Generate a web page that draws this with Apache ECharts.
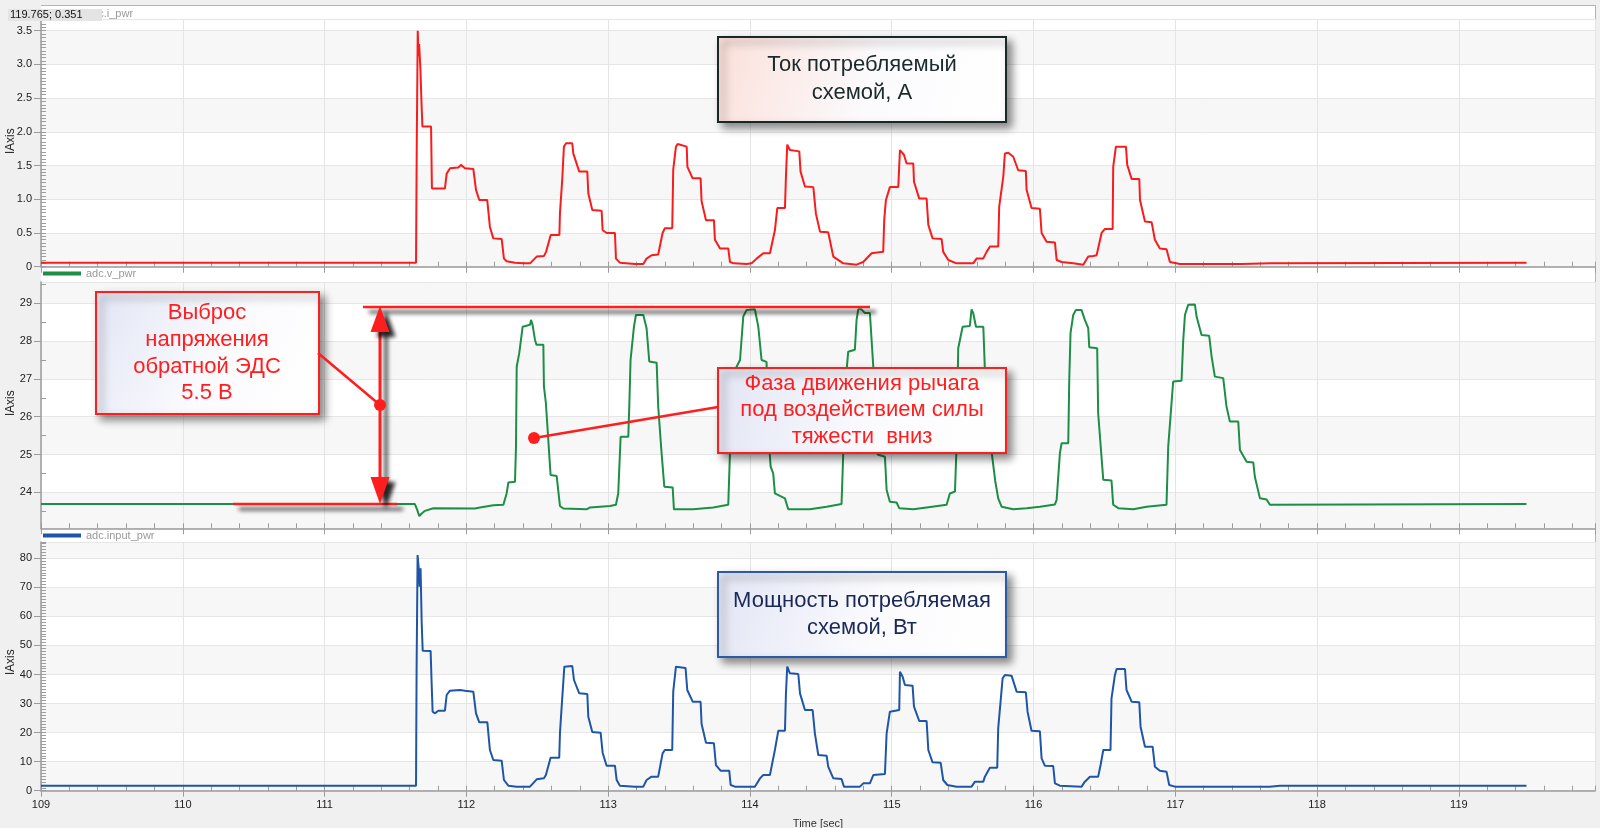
<!DOCTYPE html>
<html><head><meta charset="utf-8">
<script src="https://cdn.jsdelivr.net/npm/echarts@6.0.0/dist/echarts.min.js"></script>
<style>
html,body{margin:0;padding:0;background:#f0f0f0;}
#wrap{position:relative;width:1600px;height:828px;overflow:hidden;background:#f0f0f0;}
#plotbg{position:absolute;left:41px;top:5px;width:1555px;height:786px;background:#fff;border-top:1px solid #b4b4b4;border-right:1px solid #b4b4b4;box-sizing:border-box;}
#chart{position:absolute;left:0;top:0;width:1600px;height:828px;}
</style></head><body>
<div id="wrap"><div id="plotbg"></div><div id="chart"></div></div>
<script>
// ---- data (time in seconds) ----
const xTickLabels = [109,110,111,112,113,114,115,116,117,118,119];
const seriesNames = ['adc.i_pwr','adc.v_pwr','adc.input_pwr'];

// current, A
const iT = [109,111.645,111.65,111.657,111.663,111.667,111.676,111.684,111.69,111.751,
111.757,111.767,111.802,111.849,111.861,111.885,111.943,111.962,111.99,112.049,
112.068,112.091,112.147,112.166,112.19,112.249,112.265,112.284,112.343,112.402,
112.449,112.496,112.548,112.562,112.595,112.656,112.66,112.676,112.688,112.703,
112.747,112.754,112.796,112.853,112.86,112.888,112.954,112.961,112.99,113.048,
113.055,113.083,113.189,113.248,113.271,113.306,113.353,113.384,113.4,113.452,
113.459,113.478,113.49,113.554,113.559,113.596,113.652,113.659,113.69,113.746,
113.753,113.789,113.847,113.859,113.887,113.977,114.012,114.047,114.094,114.141,
114.176,114.193,114.247,114.254,114.263,114.282,114.348,114.357,114.388,114.447,
114.465,114.494,114.552,114.588,114.658,114.752,114.799,114.858,114.94,114.947,
114.959,114.987,115.046,115.058,115.086,115.105,115.152,115.157,115.194,115.246,
115.258,115.288,115.352,115.363,115.399,115.457,115.575,115.598,115.645,115.669,
115.693,115.751,115.758,115.787,115.798,115.822,115.857,115.892,115.946,115.951,
115.986,116.045,116.057,116.092,116.151,116.163,116.198,116.28,116.351,116.386,
116.421,116.445,116.48,116.504,116.558,116.562,116.581,116.652,116.661,116.692,
116.746,116.751,116.786,116.833,116.856,116.891,116.938,116.962,117.033,117.467,
117.477,117.67,117.68,119.477];
const iV = [0.06,0.06,1.78,3.50,3.12,3.30,2.92,2.40,2.08,2.08,
1.16,1.14,1.16,1.16,1.38,1.46,1.47,1.51,1.46,1.45,
1.14,0.99,0.99,0.59,0.42,0.41,0.12,0.08,0.06,0.05,
0.05,0.15,0.16,0.22,0.47,0.47,0.79,1.29,1.78,1.83,
1.83,1.68,1.41,1.41,1.09,0.84,0.83,0.54,0.50,0.50,
0.12,0.06,0.04,0.04,0.12,0.17,0.18,0.50,0.57,0.57,
1.44,1.78,1.82,1.78,1.48,1.31,1.31,0.97,0.69,0.69,
0.40,0.27,0.27,0.07,0.05,0.04,0.05,0.12,0.20,0.20,
0.54,0.87,0.87,1.34,1.81,1.73,1.71,1.41,1.19,1.18,
0.79,0.52,0.51,0.15,0.05,0.03,0.07,0.20,0.22,0.69,
0.99,1.18,1.18,1.73,1.66,1.53,1.53,1.26,1.01,1.01,
0.62,0.42,0.41,0.22,0.10,0.05,0.05,0.12,0.12,0.22,
0.30,0.30,0.89,1.34,1.68,1.69,1.63,1.43,1.42,1.14,
0.87,0.86,0.50,0.37,0.36,0.10,0.07,0.05,0.03,0.15,
0.16,0.17,0.50,0.56,0.56,1.48,1.78,1.78,1.51,1.30,
1.30,0.99,0.67,0.66,0.40,0.27,0.26,0.07,0.04,0.04,
0.05,0.05,0.06,0.06];

// voltage, V
const vT = [109,111.637,111.654,111.668,111.685,111.708,111.767,112.061,112.096,112.19,
112.261,112.284,112.296,112.343,112.35,112.355,112.373,112.397,112.449,112.456,
112.467,112.484,112.495,112.543,112.547,112.561,112.594,112.637,112.66,112.684,
112.848,112.872,113.013,113.055,113.071,113.088,113.142,113.149,113.158,113.182,
113.196,113.248,113.271,113.29,113.342,113.353,113.377,113.396,113.455,113.464,
113.6,113.741,113.847,113.859,113.871,113.93,113.953,113.976,114.035,114.059,
114.082,114.117,114.129,114.146,114.164,114.176,114.247,114.27,114.423,114.541,
114.646,114.658,114.682,114.693,114.74,114.752,114.764,114.787,114.811,114.846,
114.858,114.87,114.885,114.9,114.952,114.964,114.987,115.034,115.053,115.152,
115.246,115.387,115.41,115.446,115.457,115.469,115.5,115.551,115.563,115.575,
115.594,115.646,115.657,115.69,115.73,115.751,115.775,115.857,115.951,116.045,
116.151,116.163,116.186,116.198,116.245,116.252,116.261,116.28,116.299,116.339,
116.362,116.386,116.393,116.449,116.456,116.492,116.55,116.562,116.598,116.703,
116.797,116.938,116.95,116.985,117.044,117.056,117.068,117.091,117.138,117.15,
117.185,117.239,117.256,117.279,117.338,117.361,117.385,117.444,117.456,117.503,
117.55,117.561,117.597,117.644,117.667,119.477];
const vV = [23.69,23.69,23.53,23.37,23.44,23.51,23.58,23.57,23.60,23.66,
23.67,23.97,24.26,24.28,25.21,27.32,27.68,28.38,28.43,28.56,
28.43,28.03,27.90,27.90,26.80,26.35,24.46,24.43,23.64,23.57,
23.55,23.60,23.64,23.67,23.97,25.47,25.47,26.27,27.50,28.38,
28.69,28.69,28.34,27.46,27.43,26.27,25.03,24.15,24.13,23.55,
23.55,23.60,23.67,25.03,27.06,27.50,28.65,28.82,28.84,28.38,
27.50,27.45,25.60,24.68,24.50,23.97,23.84,23.55,23.55,23.62,
23.69,25.03,27.24,27.72,27.77,28.56,28.84,28.84,28.74,28.74,
28.03,27.32,26.00,25.00,24.94,24.06,23.75,23.73,23.58,23.55,
23.60,23.67,23.97,24.02,25.21,27.81,28.38,28.40,28.84,28.74,
28.38,28.38,27.24,25.50,24.30,23.84,23.62,23.55,23.58,23.62,
23.68,23.80,25.03,25.30,25.30,26.97,28.21,28.69,28.82,28.82,
28.56,28.34,27.84,27.81,26.09,24.33,24.31,23.67,23.58,23.55,
23.62,23.67,25.21,26.93,26.95,28.03,28.69,28.96,28.97,28.65,
28.16,28.14,27.59,27.06,27.02,26.27,25.87,25.87,25.12,24.81,
24.79,24.41,23.84,23.81,23.67,23.69];

// power, W
const pT = [109,111.645,111.649,111.656,111.663,111.67,111.677,111.685,111.692,111.748,
111.755,111.762,111.779,111.802,111.849,111.861,111.884,111.955,111.967,111.99,
112.049,112.068,112.091,112.148,112.166,112.19,112.249,112.265,112.296,112.354,
112.449,112.496,112.547,112.561,112.594,112.655,112.66,112.676,112.691,112.702,
112.747,112.759,112.796,112.853,112.86,112.888,112.947,112.961,112.989,113.048,
113.06,113.083,113.189,113.248,113.271,113.306,113.353,113.384,113.4,113.452,
113.459,113.478,113.49,113.546,113.558,113.596,113.652,113.659,113.69,113.746,
113.76,113.793,113.854,113.864,113.894,114.035,114.071,114.094,114.141,114.176,
114.2,114.247,114.254,114.263,114.282,114.341,114.353,114.388,114.442,114.458,
114.482,114.541,114.552,114.588,114.646,114.663,114.776,114.799,114.846,114.87,
114.952,114.964,114.987,115.053,115.058,115.077,115.093,115.147,115.157,115.194,
115.246,115.258,115.288,115.345,115.363,115.392,115.457,115.563,115.587,115.646,
115.657,115.692,115.744,115.751,115.782,115.798,115.845,115.881,115.946,115.958,
115.986,116.045,116.057,116.08,116.139,116.151,116.186,116.339,116.362,116.398,
116.456,116.473,116.492,116.543,116.55,116.574,116.586,116.645,116.656,116.692,
116.746,116.755,116.786,116.84,116.856,116.891,116.938,116.957,116.997,117.667,
117.737,119.477];
const pV = [1.73,1.73,41.55,81.13,77.12,70.23,76.54,57.61,48.20,48.09,
36.96,27.20,26.63,27.55,27.55,32.94,34.43,34.66,35.23,34.43,
34.09,26.63,23.53,23.53,14.01,10.56,10.33,3.68,1.73,1.39,
1.39,3.91,4.25,5.40,11.37,11.37,19.74,31.79,42.69,42.92,
42.92,38.10,33.51,33.28,25.48,20.20,19.97,13.09,8.61,8.61,
3.68,1.73,1.39,1.39,3.68,4.83,4.83,12.86,14.01,14.01,
34.09,42.69,42.23,42.23,34.66,30.64,30.64,22.96,16.53,16.30,
8.84,6.89,6.89,1.96,1.39,1.39,4.25,5.40,5.40,14.01,
20.66,20.66,33.51,42.69,40.40,40.17,33.51,27.78,27.78,19.74,
12.29,12.06,8.27,4.25,4.02,1.39,1.39,2.53,2.53,5.40,
5.74,19.74,27.20,27.78,40.97,39.25,36.38,36.15,28.92,23.99,
23.99,14.01,9.76,9.65,3.68,1.96,1.39,1.39,3.11,3.11,
4.83,7.93,7.93,21.47,38.68,39.82,39.59,34.09,33.86,27.20,
20.66,20.43,11.14,8.61,8.50,2.53,1.73,1.39,3.11,4.83,
4.83,8.84,14.01,14.01,31.79,39.82,41.89,41.89,34.66,30.64,
30.41,22.04,15.15,15.15,8.27,6.89,6.55,1.96,1.39,1.39,
1.73,1.73];

// ---- chart ----
const FONT = '"Liberation Sans", Arial, sans-serif';
const AX = '#9c9c9c';
const RED = '#f81c1c', GREEN = '#1c8e45', BLUE = '#1f55a6';
const zip = (a, b) => a.map((t, k) => [t, b[k]]);
const tMin = 109, tMax = 119.96;

const grids = [
  {left: 41, right: 5, top: 19, bottom: 561.3},
  {left: 41, right: 5, top: 282, bottom: 299.7},
  {left: 41, right: 5, top: 542, bottom: 37.3}
].map(g => Object.assign(g, {containLabel: false, outerBoundsMode: 'none'}));

function mainX(gi, labels) {
  return {
    type: 'value', gridIndex: gi, position: 'bottom', min: tMin, max: tMax, interval: 1,
    axisLine: {show: true, onZero: false, lineStyle: {color: AX, width: 1.5}},
    axisTick: {show: true, inside: false, length: 6, lineStyle: {color: AX}},
    axisLabel: {show: labels, color: '#222', fontSize: 11, fontFamily: FONT, margin: 9,
      showMaxLabel: false, formatter: v => (xTickLabels.indexOf(Math.round(v)) >= 0 && Math.abs(v - Math.round(v)) < 1e-6) ? String(Math.round(v)) : ''},
    splitLine: {show: true, lineStyle: {color: '#e4e4e4', width: 1}},
    name: labels ? 'Time [sec]' : '', nameLocation: 'middle', nameGap: 28,
    nameTextStyle: {color: '#333', fontSize: 11, fontFamily: FONT}
  };
}
function minorX(gi) {
  return {
    type: 'value', gridIndex: gi, position: 'bottom', min: tMin, max: tMax, interval: 0.2,
    axisLine: {show: false, onZero: false},
    axisTick: {show: true, inside: true, length: 5, lineStyle: {color: AX}},
    axisLabel: {show: false}, splitLine: {show: false}
  };
}
function mainY(gi, min, max, extra, fmt) {
  return Object.assign({
    type: 'value', gridIndex: gi, position: 'left', min: min, max: max,
    axisLine: {show: true, onZero: false, lineStyle: {color: AX, width: 1.5}},
    axisTick: {show: true, inside: false, length: 7, lineStyle: {color: AX}},
    axisLabel: {color: '#222', fontSize: 11, fontFamily: FONT, margin: 9,
      showMaxLabel: false, formatter: fmt},
    splitLine: {show: true, lineStyle: {color: '#e6e6e6', width: 1}},
    splitArea: {show: true, areaStyle: {color: ['#f7f7f7', '#ffffff']}}
  }, extra);
}
function minorY(gi, min, max, extra) {
  return Object.assign({
    type: 'value', gridIndex: gi, position: 'left', min: min, max: max,
    axisLine: {show: false, onZero: false},
    axisTick: {show: true, inside: true, length: 5, lineStyle: {color: AX}},
    axisLabel: {show: false}, splitLine: {show: false}, splitArea: {show: false}
  }, extra);
}

const yR = [[0, 3.673], [23.048, 29.563], [0, 85.6]];

const xAxes = [mainX(0, false), minorX(0), mainX(1, false), minorX(1), mainX(2, true), minorX(2)];
const yAxes = [
  mainY(0, yR[0][0], yR[0][1], {interval: 0.5}, v => v === 0 ? '0' : v.toFixed(1)),
  minorY(0, yR[0][0], yR[0][1], {interval: 0.05}),
  mainY(1, yR[1][0], yR[1][1], {splitNumber: 6, axisLabel: {color: '#222', fontSize: 11, fontFamily: FONT, margin: 9, showMinLabel: false, showMaxLabel: false, formatter: v => String(Math.round(v))}}),
  minorY(1, yR[1][0], yR[1][1], {splitNumber: 6, axisTick: {show: false, inside: true}, minorTick: {show: true, splitNumber: 2, length: 5, lineStyle: {color: AX}}}),
  mainY(2, yR[2][0], yR[2][1], {interval: 10}, v => String(Math.round(v))),
  minorY(2, yR[2][0], yR[2][1], {interval: 1})
];

function line(name, xi, yi, data, color) {
  return {type: 'line', name: name, xAxisIndex: xi, yAxisIndex: yi, data: data,
    showSymbol: false, symbol: 'none', silent: true, animation: false,
    lineStyle: {width: 2, color: color}, itemStyle: {color: color}, emphasis: {disabled: true}, z: 3};
}

function legend(name, top) {
  return {data: [name], left: 43, top: top, orient: 'horizontal', icon: 'rect',
    itemWidth: 38, itemHeight: 4, padding: 0, itemGap: 5, selectedMode: false,
    textStyle: {color: '#9a9a9a', fontSize: 11, fontFamily: FONT}};
}

// ---- annotations ----
const ARED = '#ff1e1e';
const SH = {shadowBlur: 4, shadowOffsetX: 6, shadowOffsetY: 5, shadowColor: 'rgba(0,0,0,0.85)'};
function grad(c) {
  return {type: 'linear', x: 0, y: 0, x2: 1, y2: 1,
    colorStops: [{offset: 0, color: c}, {offset: 0.55, color: '#fbfbfe'}, {offset: 1, color: '#ffffff'}]};
}
function box(x, y, w, h, stroke, c) {
  return {type: 'rect', z: 100, shape: {x: x, y: y, width: w, height: h},
    style: {fill: grad(c), stroke: stroke, lineWidth: 2, shadowBlur: 8, shadowOffsetX: 5, shadowOffsetY: 5, shadowColor: 'rgba(0,0,0,0.45)'}};
}
function txt(t, x, y, color, size, align, z) {
  return {type: 'text', z: z || 101, style: {text: t, x: x, y: y, fill: color,
    font: (size || 22) + 'px ' + FONT, textAlign: align || 'center', textVerticalAlign: 'middle',
    align: align || 'center', verticalAlign: 'middle'}};
}
function vtxt(t, x, y) {
  return {type: 'text', z: 50, x: x, y: y, rotation: Math.PI / 2,
    style: {text: t, x: 0, y: 0, fill: '#222', font: '12px ' + FONT,
      textAlign: 'center', textVerticalAlign: 'middle', align: 'center', verticalAlign: 'middle'}};
}
function seg(x1, y1, x2, y2, w, sh) {
  return {type: 'line', z: 102, shape: {x1: x1, y1: y1, x2: x2, y2: y2},
    style: Object.assign({stroke: ARED, lineWidth: w, fill: null}, sh ? SH : {})};
}
function tri(pts, sh) {
  return {type: 'polygon', z: 102, shape: {points: pts}, style: Object.assign({fill: ARED}, sh ? SH : {})};
}
function dot(cx, cy) {
  return {type: 'circle', z: 103, shape: {cx: cx, cy: cy, r: 6}, style: {fill: ARED}};
}

const graphics = [
  // y axis names
  vtxt('lAxis', 11, 141),
  vtxt('lAxis', 11, 403),
  vtxt('lAxis', 11, 662),
  // readout box over first legend
  {type: 'rect', z: 110, shape: {x: 8, y: 9, width: 94, height: 12}, style: {fill: '#e4e4e4'}},
  txt('119.765; 0.351', 10, 15, '#111', 11, 'left', 111),
  // current box
  box(718, 37, 288, 85, '#1b2626', '#fbe0da'),
  txt('Ток потребляемый', 862, 65, '#1b2a2a'),
  txt('схемой, А', 862, 93, '#1b2a2a'),
  // voltage overshoot markers
  seg(363, 307, 870, 307, 2.5, true),
  seg(233, 504, 397, 504, 2.5, true),
  seg(380, 328, 380, 480, 3, true),
  tri([[380, 306], [370.5, 332], [389.5, 332]], true),
  tri([[380, 504], [370.5, 477], [389.5, 477]], true),
  box(96, 292, 223, 122, ARED, '#e2e5f4'),
  txt('Выброс', 207, 313, ARED),
  txt('напряжения', 207, 340, ARED),
  txt('обратной ЭДС', 207, 367, ARED),
  txt('5.5 В', 207, 393, ARED),
  seg(318, 353, 380, 405, 2.5, false),
  dot(380, 405),
  // phase box
  box(718, 368, 288, 85, ARED, '#e2e5f4'),
  txt('Фаза движения рычага', 862, 384, ARED),
  txt('под воздействием силы', 862, 410, ARED),
  txt('тяжести  вниз', 862, 437, ARED),
  seg(718, 407, 534, 438, 2.5, false),
  dot(534, 438),
  // power box
  box(718, 572, 288, 85, '#2a5aa8', '#e2e5f4'),
  txt('Мощность потребляемая', 862, 601, '#1a2858'),
  txt('схемой, Вт', 862, 628, '#1a2858')
];

const option = {
  animation: false,
  backgroundColor: 'transparent',
  grid: grids,
  xAxis: xAxes,
  yAxis: yAxes,
  legend: [legend(seriesNames[0], 8), legend(seriesNames[1], 268), legend(seriesNames[2], 530)],
  series: [
    line(seriesNames[0], 0, 0, zip(iT, iV), RED),
    line(seriesNames[1], 2, 2, zip(vT, vV), GREEN),
    line(seriesNames[2], 4, 4, zip(pT, pV), BLUE)
  ],
  graphic: {elements: graphics}
};
const chart = echarts.init(document.getElementById('chart'), null, {renderer: 'canvas'});
chart.setOption(option);
</script>
</body></html>
